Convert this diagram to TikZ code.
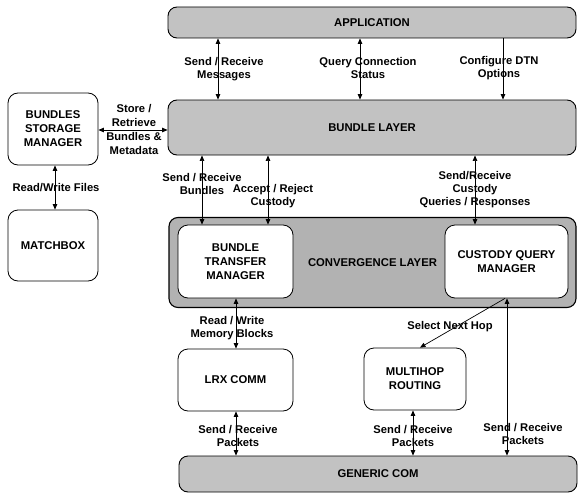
\documentclass[tikz,border=0pt]{standalone}
\usepackage{fontspec}
\setmainfont{Liberation Sans}
\usetikzlibrary{arrows.meta}
\begin{document}
\begin{tikzpicture}[x=1pt,y=-1pt,
  every node/.style={font=\bfseries\fontsize{11.3}{14}\selectfont},
  layer/.style={draw, line width=0.9pt, fill=black!24, rounded corners=9pt, inner sep=0pt},
  box/.style={draw, line width=0.8pt, fill=white, rounded corners=10pt, align=center, inner sep=0pt},
  lbl/.style={align=center, inner sep=0pt, font=\bfseries\fontsize{11.2}{13.2}\selectfont},
  tip/.style={-{Triangle[length=5.5pt,width=4.5pt]}, line width=0.7pt},
  bi/.style={{Triangle[length=5.5pt,width=4.5pt]}-{Triangle[length=5.5pt,width=4.5pt]}, line width=0.7pt}]
\useasboundingbox (0,0) rectangle (578,495);
% layers
\node[layer, minimum width=408, minimum height=31] (app) at (372,22.5) {APPLICATION};
\node[layer, minimum width=408, minimum height=55] (bl) at (372,127.5) {BUNDLE LAYER};
\node[layer, minimum width=407, minimum height=90, line width=1.1pt, fill=black!30] (cl) at (372.5,262.5) {CONVERGENCE LAYER};
\node[layer, minimum width=398, minimum height=36] (gc) at (378,474) {GENERIC COM};
% boxes
\node[box, minimum width=115, minimum height=73] (btm) at (235.5,261.5) {BUNDLE\\TRANSFER\\MANAGER};
\node[box, minimum width=123, minimum height=73] (cqm) at (506.5,261.5) {CUSTODY QUERY\\MANAGER};
\node[box, minimum width=90, minimum height=72] (bsm) at (53,129) {BUNDLES\\STORAGE\\MANAGER};
\node[box, minimum width=90, minimum height=71] (mb) at (53,245.5) {MATCHBOX};
\node[box, minimum width=115, minimum height=62] (lrx) at (235.5,380) {LRX COMM};
\node[box, minimum width=102, minimum height=62] (mh) at (415,379) {MULTIHOP\\ROUTING};
% x / y guides
\coordinate (xa) at (218,0);
\coordinate (xb) at (360,0);
\coordinate (xc) at (503,0);
\coordinate (xd) at (55,0);
\coordinate (xe) at (202,0);
\coordinate (xf) at (268,0);
\coordinate (xg) at (475,0);
\coordinate (xh) at (236,0);
\coordinate (xi) at (413,0);
\coordinate (xj) at (507,0);
\coordinate (xk) at (505,0);
\coordinate (xl) at (420,0);
\coordinate (ya) at (0,130);
% connectors
\draw[bi] (app.south -| xa) -- (bl.north -| xa);
\draw[bi] (app.south -| xb) -- (bl.north -| xb);
\draw[tip] (app.south -| xc) -- (bl.north -| xc);
\draw[bi] (bsm.east |- ya) -- (bl.west |- ya);
\draw[bi] (bsm.south -| xd) -- (mb.north -| xd);
\draw[bi] (bl.south -| xe) -- (btm.north -| xe);
\draw[bi] (bl.south -| xf) -- (btm.north -| xf);
\draw[bi] (bl.south -| xg) -- (cqm.north -| xg);
\draw[bi] (btm.south -| xh) -- (lrx.north -| xh);
\draw[bi] (lrx.south -| xh) -- (gc.north -| xh);
\draw[bi] (mh.south -| xi) -- (gc.north -| xi);
\draw[bi] (cqm.south -| xj) -- (gc.north -| xj);
\draw[tip] (cqm.south -| xk) -- (mh.north -| xl);
% labels
\node[lbl] (l1) at (224,69) {Send / Receive\\Messages};
\node[lbl] (l2) at (368,68) {Query Connection\\Status};
\node[lbl] (l3) at (499,68) {Configure DTN\\Options};
\node[lbl, font=\bfseries\fontsize{11.2}{13.7}\selectfont] (l4) at (134,129.5) {Store /\\Retrieve\\Bundles \&\\Metadata};
\node[lbl] (l5) at (56,188) {Read/Write Files};
\node[lbl] (l6) at (202,184) {Send / Receive\\Bundles};
\node[lbl] (l7) at (273,196.5) {Accept / Reject\\Custody};
\node[lbl] (l8) at (475,189.5) {Send/Receive\\Custody\\Queries / Responses};
\node[lbl] (l9) at (232,328.5) {Read / Write\\Memory Blocks};
\node[lbl] (l10) at (450,327) {Select Next Hop};
\node[lbl] (l11) at (238,436) {Send / Receive\\Packets};
\node[lbl] (l12) at (413,436) {Send / Receive\\Packets};
\node[lbl] (l13) at (523,434) {Send / Receive\\Packets};
\end{tikzpicture}
\end{document}
